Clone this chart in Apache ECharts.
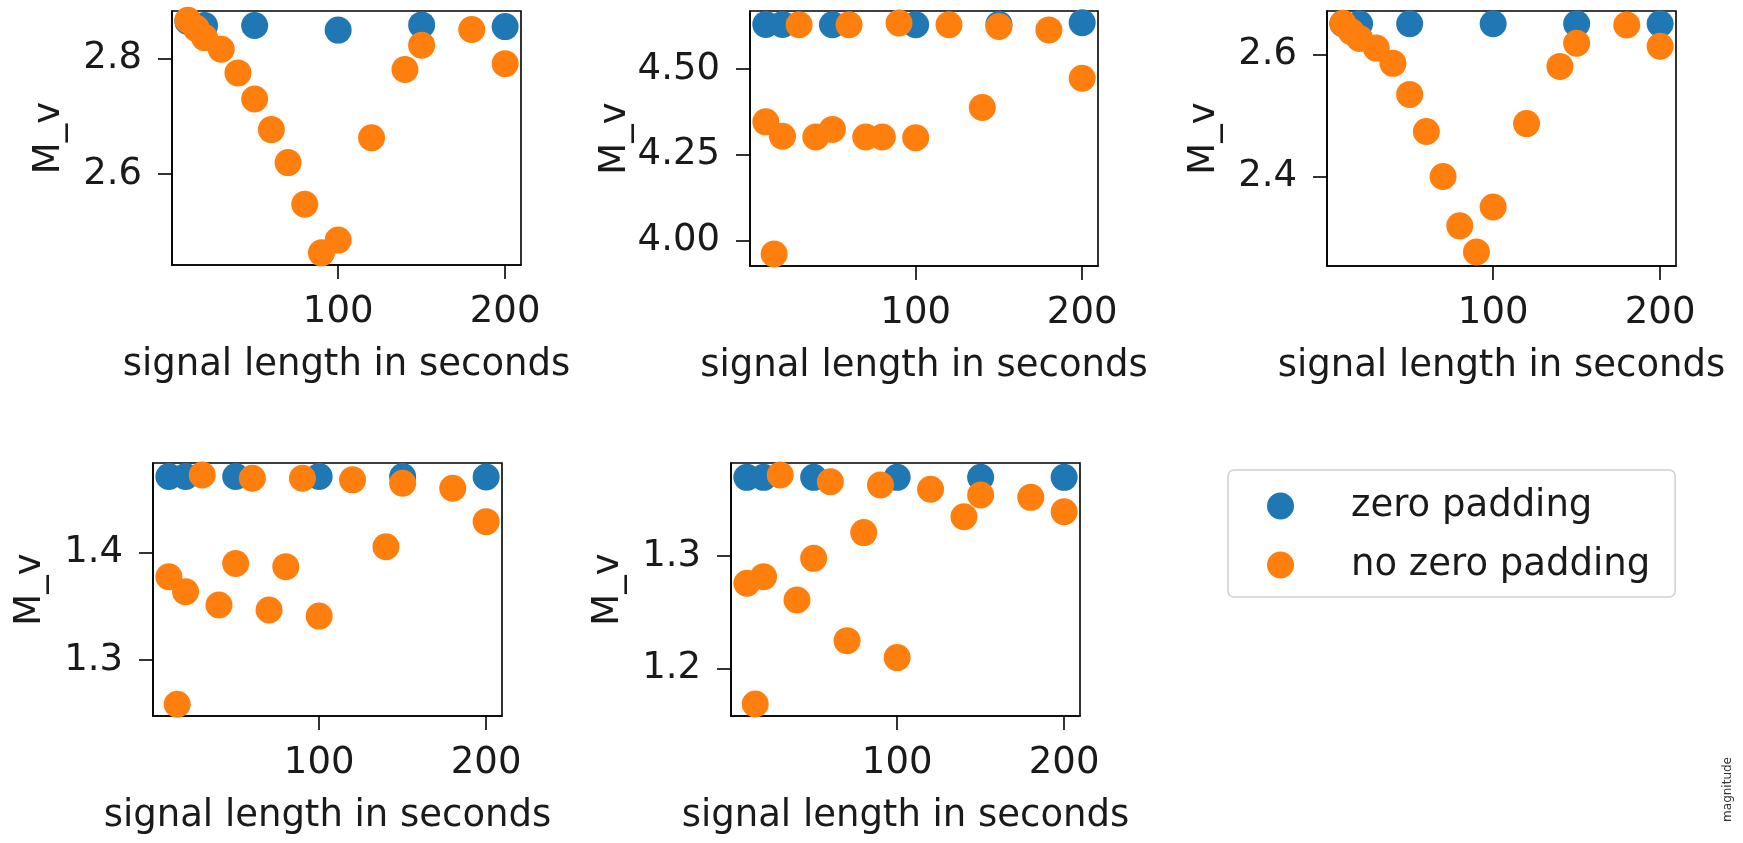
<!DOCTYPE html>
<html>
<head>
<meta charset="utf-8">
<script src="https://cdn.jsdelivr.net/npm/echarts@6/dist/echarts.min.js"></script>
<style>
html,body{margin:0;padding:0;background:#fff;}
#c{width:1743px;height:843px;}
</style>
</head>
<body>
<div id="c"></div>
<script>
// ---- data ----
const seriesNames = ['zero padding', 'no zero padding'];
const xBlue = [10, 20, 50, 100, 150, 200];
const xOrange = [10, 15, 20, 30, 40, 50, 60, 70, 80, 90, 100, 120, 140, 150, 180, 200];
const xTicks = [100, 200];
const xRange = [0.5, 209.5];

const p1Blue = [2.864, 2.857, 2.857, 2.849, 2.858, 2.855];
const p1Orange = [2.866, 2.852, 2.836, 2.816, 2.775, 2.730, 2.677, 2.620, 2.548, 2.464, 2.486, 2.663, 2.781, 2.823, 2.850, 2.791];
const p1YTicks = [2.6, 2.8];
const p1YLabels = ['2.6', '2.8'];
const p1YRange = [2.443, 2.882];

const p2Blue = [4.630, 4.630, 4.629, 4.629, 4.630, 4.635];
const p2Orange = [4.346, 3.961, 4.304, 4.629, 4.302, 4.324, 4.629, 4.302, 4.302, 4.634, 4.300, 4.629, 4.388, 4.624, 4.614, 4.473];
const p2YTicks = [4.00, 4.25, 4.50];
const p2YLabels = ['4.00', '4.25', '4.50'];
const p2YRange = [3.926, 4.669];

const p3Blue = [2.651, 2.651, 2.651, 2.651, 2.651, 2.651];
const p3Orange = [2.652, 2.638, 2.627, 2.611, 2.586, 2.535, 2.474, 2.400, 2.319, 2.276, 2.350, 2.487, 2.581, 2.619, 2.649, 2.614];
const p3YTicks = [2.4, 2.6];
const p3YLabels = ['2.4', '2.6'];
const p3YRange = [2.253, 2.672];

const p4Blue = [1.471, 1.471, 1.471, 1.471, 1.471, 1.4705];
const p4Orange = [1.3776, 1.259, 1.3637, 1.4724, 1.3513, 1.390, 1.4693, 1.3466, 1.387, 1.4693, 1.341, 1.4678, 1.4056, 1.4647, 1.460, 1.4289];
const p4YTicks = [1.3, 1.4];
const p4YLabels = ['1.3', '1.4'];
const p4YRange = [1.248, 1.4835];

const p5Blue = [1.370, 1.370, 1.370, 1.370, 1.370, 1.370];
const p5Orange = [1.2757, 1.1682, 1.2816, 1.3721, 1.2608, 1.2979, 1.3661, 1.2246, 1.3208, 1.3632, 1.2095, 1.3594, 1.335, 1.3543, 1.3522, 1.3394];
const p5YTicks = [1.2, 1.3];
const p5YLabels = ['1.2', '1.3'];
const p5YRange = [1.1575, 1.3828];

const xName = 'signal length in seconds';
const yName = 'M_v';
const sideNote = 'magnitude';

// ---- build ----
const FONT = 'DejaVu Sans';
const TXT = '#1a1a1a';
const BLUE = '#1f77b4';
const ORANGE = '#ff7f0e';

const panels = [
  {blue: p1Blue, orange: p1Orange, ticks: p1YTicks, labels: p1YLabels, range: p1YRange, box: [172, 11, 349, 254]},
  {blue: p2Blue, orange: p2Orange, ticks: p2YTicks, labels: p2YLabels, range: p2YRange, box: [750, 11, 348, 255]},
  {blue: p3Blue, orange: p3Orange, ticks: p3YTicks, labels: p3YLabels, range: p3YRange, box: [1327, 11, 349, 255]},
  {blue: p4Blue, orange: p4Orange, ticks: p4YTicks, labels: p4YLabels, range: p4YRange, box: [153, 463, 349, 253]},
  {blue: p5Blue, orange: p5Orange, ticks: p5YTicks, labels: p5YLabels, range: p5YRange, box: [731, 463, 349, 253]}
];

const grid = [], xAxis = [], yAxis = [], series = [];
panels.forEach((p, i) => {
  grid.push({left: p.box[0], top: p.box[1], width: p.box[2], height: p.box[3],
    show: true, borderColor: '#000', borderWidth: 1.6, backgroundColor: 'transparent', containLabel: false});
  xAxis.push({type: 'value', gridIndex: i, min: xRange[0], max: xRange[1],
    name: xName, nameLocation: 'middle', nameGap: 82,
    nameTextStyle: {fontFamily: FONT, fontSize: 37, color: TXT},
    axisLine: {show: true, onZero: false, lineStyle: {color: '#000', width: 1.6}},
    axisTick: {show: true, length: 14, customValues: xTicks, lineStyle: {color: '#000', width: 1.6}},
    axisLabel: {show: true, customValues: xTicks, margin: 29, fontFamily: FONT, fontSize: 37, color: TXT},
    splitLine: {show: false}});
  yAxis.push({type: 'value', gridIndex: i, min: p.range[0], max: p.range[1],
    name: yName, nameLocation: 'middle', nameGap: 104,
    nameTextStyle: {fontFamily: FONT, fontSize: 37, color: TXT},
    axisLine: {show: true, onZero: false, lineStyle: {color: '#000', width: 1.6}},
    axisTick: {show: true, length: 14, customValues: p.ticks, lineStyle: {color: '#000', width: 1.6}},
    axisLabel: {show: true, customValues: p.ticks, margin: 30, fontFamily: FONT, fontSize: 37, color: TXT,
      formatter: (v) => { const k = p.ticks.findIndex(t => Math.abs(t - v) < 1e-9); return k >= 0 ? p.labels[k] : ''; }},
    splitLine: {show: false}});
  series.push({type: 'scatter', name: seriesNames[0], xAxisIndex: i, yAxisIndex: i,
    symbol: 'circle', symbolSize: 27, itemStyle: {color: BLUE, opacity: 1}, clip: true,
    data: xBlue.map((x, k) => [x, p.blue[k]])});
  series.push({type: 'scatter', name: seriesNames[1], xAxisIndex: i, yAxisIndex: i,
    symbol: 'circle', symbolSize: 27, itemStyle: {color: ORANGE, opacity: 1}, clip: true,
    data: xOrange.map((x, k) => [x, p.orange[k]])});
});

const chart = echarts.init(document.getElementById('c'), null, {renderer: 'canvas'});
chart.setOption({
  animation: false,
  backgroundColor: '#fff',
  grid, xAxis, yAxis, series,
  legend: {
    data: seriesNames,
    orient: 'vertical',
    left: 1228, top: 470,
    padding: [16, 25, 12, 39],
    itemWidth: 27, itemHeight: 27, itemGap: 19,
    icon: 'circle',
    backgroundColor: '#fff',
    borderColor: '#d0d0d0', borderWidth: 1.5, borderRadius: 6,
    textStyle: {fontFamily: FONT, fontSize: 37, color: TXT, lineHeight: 40, padding: [0, 0, 0, 52]}
  },
  graphic: [{
    type: 'text', left: 1722, top: 757, rotation: Math.PI / 2,
    style: {text: sideNote, fontFamily: FONT, fontSize: 12, fill: '#333'}
  }]
});
</script>
</body>
</html>
